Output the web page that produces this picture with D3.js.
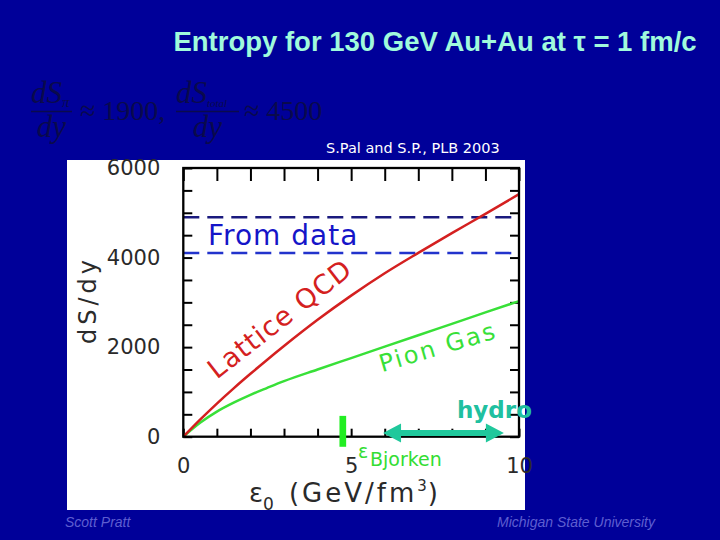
<!DOCTYPE html>
<html><head><meta charset="utf-8">
<script src="https://cdn.jsdelivr.net/npm/d3@7"></script>
<style>html,body{margin:0;padding:0;background:#000099;} svg{display:block}</style>
</head><body>
<svg id="c" width="720" height="540"></svg>
<script>
// ---- data ----
const energyDensity = [0, 0.5, 1, 1.5, 2, 2.5, 3, 4, 5, 6, 7, 8, 9, 10];
const latticeQCD   = [0, 380, 740, 1080, 1405, 1720, 2025, 2610, 3150, 3650, 4105, 4545, 4975, 5415];
const pionGas      = [0, 310, 560, 760, 935, 1090, 1240, 1500, 1755, 2010, 2265, 2520, 2775, 3027];
const dataBands    = [4900, 4100];            // "From data" dashed levels
const yTickLabels  = [0, 2000, 4000, 6000];
const xTickLabels  = [0, 5, 10];
const epsBjorken   = 4.75;
const bjorkenBar   = [-225, 465];
const hydroRange   = [5.95, 9.55];
const hydroLevel   = 80;
const titleText    = "Entropy for 130 GeV Au+Au at \u03C4 = 1 fm/c";

// ---- layout ----
const svg = d3.select('#c');
svg.append('rect').attr('width', 720).attr('height', 540).attr('fill', '#000099');

svg.append('text').attr('x', 435).attr('y', 51).attr('text-anchor', 'middle')
  .attr('font-family', 'Liberation Sans, Arial, sans-serif').attr('font-weight', 'bold')
  .attr('font-size', 27.5).attr('fill', '#a0fadc').text(titleText);

// formula (dark, nearly invisible on blue)
const fCol = '#0a0a4c';
const ff = 'Liberation Serif, Times New Roman, serif';
function frac(x0, w, sub, subSize) {
  const g = svg.append('g').attr('fill', fCol).attr('font-family', ff);
  const t = g.append('text').attr('x', x0).attr('y', 103).attr('font-size', 31).attr('font-style', 'italic');
  t.append('tspan').text('dS');
  t.append('tspan').attr('font-size', subSize).attr('dy', 4).text(sub);
  g.append('line').attr('x1', x0).attr('x2', x0 + w).attr('y1', 111.5).attr('y2', 111.5)
    .attr('stroke', fCol).attr('stroke-width', 1.5);
  g.append('text').attr('x', x0 + w / 2).attr('y', 137).attr('text-anchor', 'middle')
    .attr('font-size', 31).attr('font-style', 'italic').text('dy');
}
frac(31, 41, '\u03C0', 15);
svg.append('text').attr('x', 80).attr('y', 120).attr('font-family', ff).attr('font-size', 28)
  .attr('fill', fCol).text('\u2248 1900,');
frac(176, 63, 'total', 11);
svg.append('text').attr('x', 244).attr('y', 120).attr('font-family', ff).attr('font-size', 28)
  .attr('fill', fCol).text('\u2248 4500');

svg.append('text').attr('x', 326).attr('y', 153).attr('font-family', 'DejaVu Sans, sans-serif')
  .attr('font-size', 14.5).attr('fill', '#ffffff').text('S.Pal and S.P., PLB 2003');

// white panel
svg.append('rect').attr('x', 67).attr('y', 160).attr('width', 458).attr('height', 350).attr('fill', '#ffffff');

// scales
const x = d3.scaleLinear().domain([0, 10]).range([183.3, 519]);
const y = d3.scaleLinear().domain([0, 6000]).range([436.7, 168]);
const pf = 'DejaVu Sans, sans-serif';

// axes
function styleAxis(g) {
  g.select('.domain').remove();
  g.selectAll('.tick line').attr('stroke', '#000').attr('stroke-width', 2);
  g.selectAll('.tick text').attr('font-family', pf).attr('font-size', 21).attr('fill', '#2a2a2a');
}
svg.append('g').attr('transform', `translate(0,${y(0)})`)
  .call(d3.axisBottom(x).tickValues(d3.range(0, 11)).tickSize(-8).tickPadding(21)
    .tickFormat(d => xTickLabels.includes(d) ? d : ''))
  .call(styleAxis);
svg.append('g').attr('transform', `translate(0,${y(6000)})`)
  .call(d3.axisTop(x).tickValues(d3.range(0, 11)).tickSize(-13).tickFormat(''))
  .call(styleAxis);
svg.append('g').attr('transform', `translate(${x(0)},0)`)
  .call(d3.axisLeft(y).tickValues(d3.range(0, 6001, 500)).tickSize(-9).tickPadding(23)
    .tickFormat(d => yTickLabels.includes(d) ? d : ''))
  .call(styleAxis);
svg.append('g').attr('transform', `translate(${x(10)},0)`)
  .call(d3.axisRight(y).tickValues(d3.range(0, 6001, 500)).tickSize(-9).tickFormat(''))
  .call(styleAxis);

// data bands (dashed)
const bandColors = ['#1a1a7e', '#2233cc'];
svg.selectAll('line.band').data(dataBands).enter().append('line')
  .attr('x1', x(0)).attr('x2', x(10)).attr('y1', d => y(d)).attr('y2', d => y(d))
  .attr('stroke', (d, i) => bandColors[i]).attr('stroke-width', 2.5).attr('stroke-dasharray', '16,8');

// curves
const line = vals => d3.line().x((d, i) => x(energyDensity[i])).y(d => y(d)).curve(d3.curveMonotoneX)(vals);
svg.append('path').attr('d', line(pionGas)).attr('fill', 'none').attr('stroke', '#38e038').attr('stroke-width', 2.5);
svg.append('path').attr('d', line(latticeQCD)).attr('fill', 'none').attr('stroke', '#d42020').attr('stroke-width', 2.5);

// frame
svg.append('rect').attr('x', x(0)).attr('y', y(6000)).attr('width', x(10) - x(0)).attr('height', y(0) - y(6000))
  .attr('fill', 'none').attr('stroke', '#000').attr('stroke-width', 2.3);

// labels in plot
svg.append('text').attr('x', 208).attr('y', 245).attr('font-family', pf).attr('font-size', 28)
  .attr('letter-spacing', 1).attr('fill', '#1515c8').text('From data');
svg.append('text').attr('transform', `translate(${x(1.0)},${y(1270)}) rotate(-38)`)
  .attr('font-family', pf).attr('font-size', 27).attr('letter-spacing', 1.2).attr('fill', '#d42020').text('Lattice QCD');
svg.append('text').attr('transform', `translate(${x(5.92)},${y(1440)}) rotate(-16.5)`)
  .attr('font-family', pf).attr('font-size', 24).attr('letter-spacing', 2.2).attr('fill', '#38e038').text('Pion  Gas');

// axis titles
svg.append('text').attr('transform', 'translate(96,300) rotate(-90)').attr('text-anchor', 'middle')
  .attr('font-family', pf).attr('font-size', 24).attr('letter-spacing', 4).attr('fill', '#2a2a2a').text('dS/dy');
const xt = svg.append('text').attr('x', 249).attr('y', 502).attr('font-family', pf).attr('font-size', 26).attr('fill', '#2a2a2a');
xt.append('tspan').text('\u03B5');
xt.append('tspan').attr('font-size', 17).attr('dy', 8).text('0');
xt.append('tspan').attr('dy', -8).attr('dx', 15).attr('letter-spacing', 3).text('(GeV/fm');
xt.append('tspan').attr('font-size', 15).attr('dy', -11).text('3');
xt.append('tspan').attr('dy', 11).attr('dx', 1).text(')');

// Bjorken marker
svg.append('rect').attr('x', x(epsBjorken) - 3.3).attr('y', y(bjorkenBar[1]))
  .attr('width', 6.7).attr('height', y(bjorkenBar[0]) - y(bjorkenBar[1])).attr('fill', '#22ee22');
svg.append('text').attr('x', 358).attr('y', 458).attr('font-family', pf)
  .attr('font-size', 19).attr('fill', '#33dd33').text('\u03B5');
svg.append('text').attr('x', 370).attr('y', 466).attr('font-family', pf)
  .attr('font-size', 19).attr('fill', '#33dd33').text('Bjorken');

// hydro arrow
const ax1 = x(hydroRange[0]), ax2 = x(hydroRange[1]), ay = y(hydroLevel);
const hl = 18, hw = 9.5, sw = 3;
const arrowPath = `M${ax1},${ay} L${ax1 + hl},${ay - hw} L${ax1 + hl},${ay - sw} L${ax2 - hl},${ay - sw} L${ax2 - hl},${ay - hw} L${ax2},${ay} L${ax2 - hl},${ay + hw} L${ax2 - hl},${ay + sw} L${ax1 + hl},${ay + sw} L${ax1 + hl},${ay + hw} Z`;
svg.append('path').attr('d', arrowPath).attr('fill', '#20c89c');
svg.append('text').attr('x', 457).attr('y', 418).attr('font-family', pf).attr('font-weight', 'bold')
  .attr('font-size', 23).attr('fill', '#20c0a0').text('hydro');

// footer
svg.append('text').attr('x', 65).attr('y', 527).attr('font-family', 'Liberation Sans, Arial, sans-serif')
  .attr('font-style', 'italic').attr('font-size', 14).attr('fill', '#5e5ed0').text('Scott Pratt');
svg.append('text').attr('x', 655).attr('y', 527).attr('text-anchor', 'end').attr('font-family', 'Liberation Sans, Arial, sans-serif')
  .attr('font-style', 'italic').attr('font-size', 14).attr('fill', '#5e5ed0').text('Michigan State University');
</script>
</body></html>
